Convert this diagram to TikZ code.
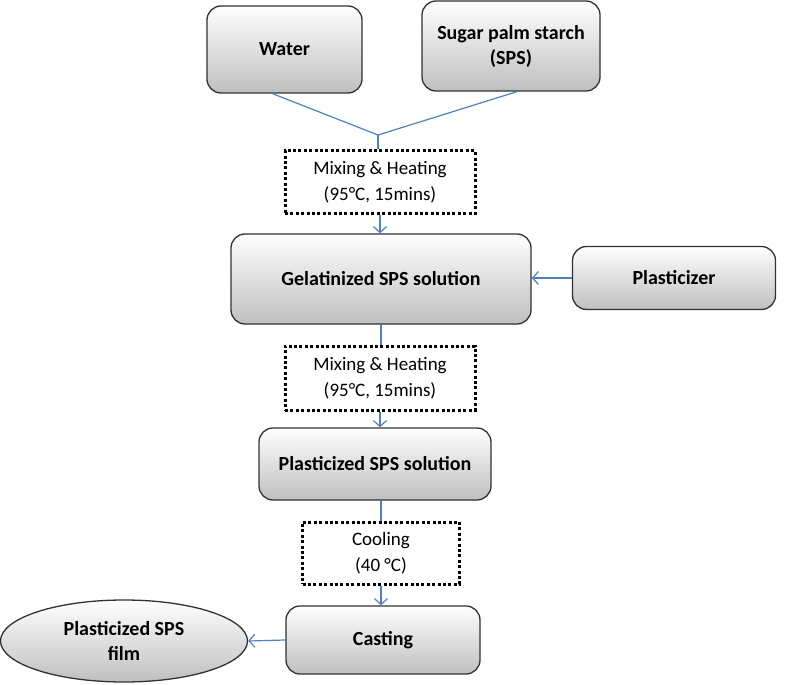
\documentclass[tikz,border=0pt]{standalone}
\usepackage{fontspec}
\setmainfont{Carlito}
\usepackage{tikz}
\usetikzlibrary{positioning,arrows.meta,shapes.geometric}

\definecolor{flowblue}{RGB}{79,129,189}
\definecolor{boxline}{RGB}{50,50,50}

\tikzset{
  stagebox/.style={draw=boxline, line width=1.3pt, rounded corners=14pt,
    top color=white, bottom color=black!25, align=center,
    font=\fontsize{20}{25}\selectfont\bfseries, inner sep=2pt},
  processbox/.style={draw=black, line width=3pt, dash pattern=on 3pt off 2.4pt,
    fill=white, align=center, font=\fontsize{19}{26}\selectfont, inner sep=2pt},
  productnode/.style={ellipse, draw=boxline, line width=1.3pt,
    top color=white, bottom color=black!25, align=center,
    font=\fontsize{20}{25}\selectfont\bfseries, inner sep=0pt},
  flow/.style={draw=flowblue, line width=1.2pt},
  flowarrow/.style={flow, -{Straight Barb[length=6pt,width=13pt,line width=1.2pt]}}
}

\begin{document}
\begin{tikzpicture}[x=1pt,y=-1pt]
\useasboundingbox (0,0) rectangle (788,685);
\node[stagebox, minimum width=155pt, minimum height=87pt] (water) at (284.5,49.5) {Water};
\node[stagebox, minimum width=178pt, minimum height=90pt] (sps) at (511,46) {Sugar palm starch\\(SPS)};
\coordinate (join) at (378,135);
\node[processbox, minimum width=190pt, minimum height=63pt] (mixA) at (380,182) {Mixing \& Heating\\(95°C, 15mins)};
\node[stagebox, minimum width=300pt, minimum height=90pt] (gelsol) at (381,279) {Gelatinized SPS solution};
\node[stagebox, minimum width=203pt, minimum height=63pt] (plasticizer) at (674,278) {Plasticizer};
\node[processbox, minimum width=190pt, minimum height=64pt] (mixB) at (380,378) {Mixing \& Heating\\(95°C, 15mins)};
\node[stagebox, minimum width=232pt, minimum height=72pt] (plastsol) at (375,464) {Plasticized SPS solution};
\node[processbox, minimum width=157pt, minimum height=62pt] (cooling) at (381,553) {Cooling\\(40 °C)};
\node[stagebox, minimum width=194pt, minimum height=68pt] (casting) at (383,640) {Casting};
\node[productnode, minimum width=247pt, minimum height=82pt] (film) at (124,641) {Plasticized SPS\\film};

\draw[flow] ([xshift=-12pt]water.south) -- (join);
\draw[flow] ([xshift=6pt]sps.south) -- (join);
\draw[flow] (join) -- (join |- mixA.north);
\draw[flowarrow] (mixA.south) -- (mixA.south |- gelsol.north);
\draw[flowarrow] (plasticizer.west) -- (gelsol.east |- plasticizer.west);
\draw[flow] (gelsol.south) -- (gelsol.south |- mixB.north);
\draw[flowarrow] (mixB.south) -- (mixB.south |- plastsol.north);
\draw[flow] (plastsol.south -| cooling.north) -- (cooling.north);
\draw[flowarrow] (cooling.south) -- (cooling.south |- casting.north);
\draw[flowarrow] (casting.west) -- (film.east);
\end{tikzpicture}
\end{document}
